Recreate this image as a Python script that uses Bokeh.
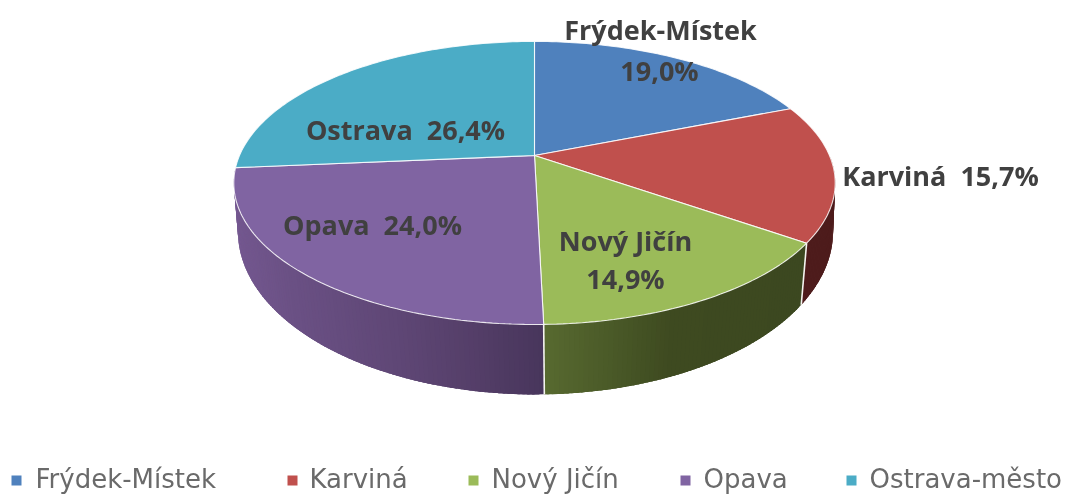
import math
from bokeh.plotting import figure
from bokeh.models import Range1d
from bokeh.core.properties import value
from bokeh.embed import file_html
from bokeh.resources import INLINE

# --- data -------------------------------------------------------------
legend_names = ["Frýdek-Místek", "Karviná", "Nový Jičín", "Opava", "Ostrava-město"]
shares = [19.0, 15.7, 14.9, 24.0, 26.4]
top_colors = ["#4F81BD", "#C0504D", "#9BBB59", "#8064A2", "#4BACC6"]

W, H = 1072, 494
FONT = "Open Sans"

# projective pie geometry (top face and bottom face of the disc)
TOP = dict(cx=534.0, cy=155.0, a=295.0, b=136.2, k=0.194)
LOW = dict(cx=535.0, cy=204.0, a=293.5, b=158.6, k=0.165)


def project(face, deg):
    t = math.radians(deg)
    u, v = math.sin(t), -math.cos(t)
    d = 1 - face["k"] * v
    return face["cx"] + face["a"] * u / d, face["cy"] + face["b"] * v / d


def mix(stops, x):
    if x <= stops[0][0]:
        return stops[0][1]
    for (x0, c0), (x1, c1) in zip(stops, stops[1:]):
        if x <= x1:
            f = (x - x0) / (x1 - x0)
            return tuple(round(a + (b - a) * f) for a, b in zip(c0, c1))
    return stops[-1][1]


side_stops = {
    1: [(800, (78, 28, 28)), (835, (78, 28, 28))],
    2: [(545, (88, 106, 48)), (610, (74, 90, 40)), (670, (62, 74, 32)), (800, (60, 72, 32))],
    3: [(235, (116, 88, 144)), (300, (106, 80, 132)), (400, (95, 71, 118)), (480, (84, 62, 104)), (543, (72, 54, 92))],
}

p = figure(width=W, height=H, x_range=Range1d(0, W), y_range=Range1d(H, 0),
           toolbar_location=None, output_backend="svg", min_border=0,
           x_axis_type=None, y_axis_type=None, outline_line_color=None)
p.grid.visible = False
p.styles = {"filter": "blur(0.55px)"}

# cumulative angles
edges = [0.0]
for s in shares:
    edges.append(edges[-1] + s * 3.6)

# side wall: painted from far end to near end, each band reaching to the slice's end
for i, stops in side_stops.items():
    a0, a1 = max(edges[i], 90.0), edges[i + 1]
    n = max(2, int((a1 - a0) / 0.8))
    xs, ys, cols = [], [], []
    for j in range(n):
        s0 = a0 + (a1 - a0) * j / n
        s1 = min(a1, s0 + (a1 - a0) * 2.5 / n)
        t0, t1 = project(TOP, s0), project(TOP, s1)
        l0, l1 = project(LOW, s0), project(LOW, s1)
        xs.append([t0[0], t1[0], l1[0], l0[0]])
        ys.append([t0[1], t1[1], l1[1], l0[1]])
        cols.append("#%02x%02x%02x" % mix(stops, l0[0]))
    p.patches(xs, ys, fill_color=cols, line_color=None)

# white separators on the side wall
for ang in (edges[2], edges[3]):
    t, l = project(TOP, ang), project(LOW, ang)
    p.line([t[0], l[0]], [t[1], l[1]], line_color="#f4f4f0", line_width=1.6)

# top face
for i, col in enumerate(top_colors):
    a0, a1 = edges[i], edges[i + 1]
    n = max(4, int((a1 - a0) / 1.0))
    pts = [project(TOP, a0 + (a1 - a0) * j / n) for j in range(n + 1)]
    xs = [TOP["cx"]] + [q[0] for q in pts]
    ys = [TOP["cy"]] + [q[1] for q in pts]
    p.patch(xs, ys, fill_color=col, line_color="#ffffff", line_width=1.1, line_alpha=0.85)

# data labels
fmt = [f"{s:.1f}".replace(".", ",") + "%" for s in shares]
lab_x = [660, 659, 940, 625, 625, 372, 405]
lab_y = [29, 70, 175, 240, 278, 224, 129]
lab_t = [legend_names[0], fmt[0], f"{legend_names[1]}\u00a0 {fmt[1]}", legend_names[2], fmt[2],
         f"{legend_names[3]}\u00a0 {fmt[3]}", f"Ostrava\u00a0 {fmt[4]}"]
p.text(lab_x, lab_y, text=lab_t, text_font=value(FONT), text_font_style="bold",
       text_font_size="27px", text_color="#404040", text_align="center", text_baseline="middle")

# legend
leg_mark_x = [16, 292, 473, 685, 851]
leg_text_x = [35, 309, 491, 703, 869]
leg_y = 478
p.scatter(leg_mark_x, [480] * 5, marker="square", size=10, fill_color=top_colors, line_color=None)
p.text(leg_text_x, [leg_y] * 5, text=legend_names, text_font=value("DejaVu Sans"),
       text_font_size="26px", text_color="#6a6a6a", text_align="left", text_baseline="middle")

open("out.html", "w").write(file_html(p, INLINE))
